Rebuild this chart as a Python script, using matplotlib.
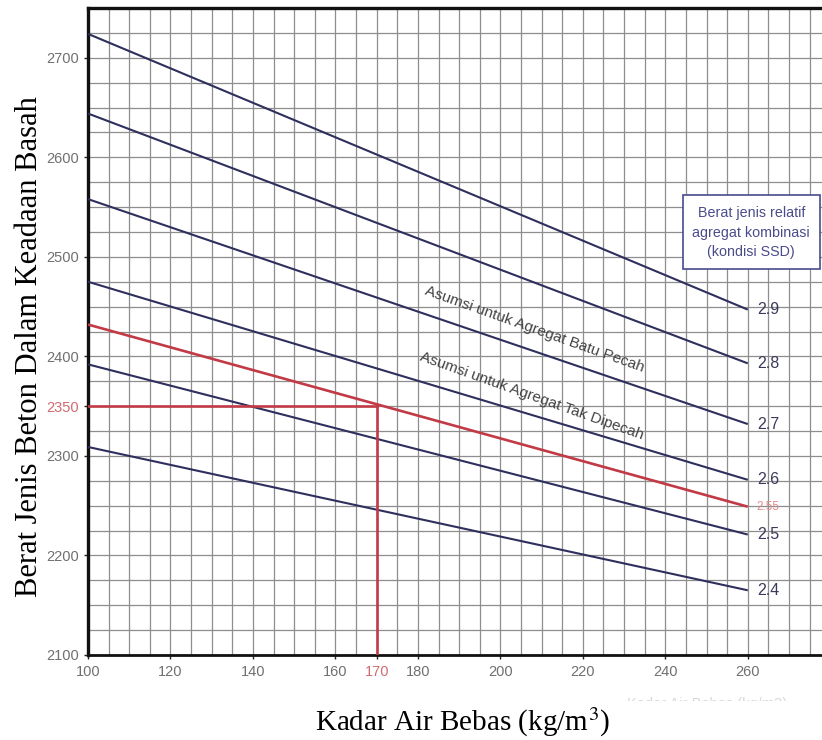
import matplotlib
matplotlib.use("Agg")
import matplotlib.pyplot as plt
from matplotlib.patches import Rectangle

# Free water content range covered by each specific-gravity line (kg/m3)
water_ends = [100, 260]

# Combined aggregate relative density (SSD) and wet concrete density at both ends
sg_labels = ["2.9", "2.8", "2.7", "2.6", "2.55", "2.5", "2.4"]
density_at_100 = [2724, 2644, 2558, 2475, 2432, 2392, 2309]
density_at_260 = [2447, 2393, 2332, 2276, 2249, 2221, 2165]

# Worked example: reading at 170 kg/m3 on the 2.55 line
water_read = 170
density_read = 2350

x_ticks = [100, 120, 140, 160, 170, 180, 200, 220, 240, 260]
y_ticks = [2100, 2200, 2300, 2350, 2400, 2500, 2600, 2700]

navy = "#2f2f5e"
red = "#c23a46"
grid_c = "#8e8e8e"
tick_c = "#707070"

fig = plt.figure(figsize=(8.22, 7.40), dpi=100)
ax = fig.add_axes([88 / 822, 85 / 740, 1 - 88 / 822, (655 - 8) / 740])
ax.set_xlim(100, 278)
ax.set_ylim(2100, 2750)

ax.set_xticks(x_ticks)
ax.set_xticklabels([str(v) for v in x_ticks])
ax.set_yticks(y_ticks)
ax.set_yticklabels([str(v) for v in y_ticks])

# Grid: every 5 kg/m3 and every 25 kg/m3 of density
ax.set_xticks(list(range(100, 280, 5)), minor=True)
ax.set_yticks(list(range(2100, 2751, 25)), minor=True)
ax.grid(which="both", color=grid_c, linewidth=0.9, zorder=0)
ax.tick_params(which="minor", length=0)

ax.tick_params(axis="both", which="major", direction="out", length=3,
               width=1.0, colors="#222222", labelcolor=tick_c, labelsize=10.5,
               labelfontfamily="Liberation Sans")
ax.tick_params(axis="x", pad=4.5)
ax.tick_params(axis="y", pad=3.5)
for lbl in ax.get_xticklabels():
    if lbl.get_text() == str(water_read):
        lbl.set_color("#d06a72")
for lbl in ax.get_yticklabels():
    if lbl.get_text() == str(density_read):
        lbl.set_color("#d06a72")

for side in ("left", "top"):
    ax.spines[side].set_linewidth(2.4)
    ax.spines[side].set_color("#111111")
ax.spines["bottom"].set_linewidth(2.0)
ax.spines["bottom"].set_color("#111111")
ax.spines["right"].set_visible(False)

# Density lines for each relative density
for lab, y0, y1 in zip(sg_labels, density_at_100, density_at_260):
    is_red = lab == "2.55"
    ax.plot(water_ends, [y0, y1], color=red if is_red else navy,
            linewidth=1.9 if is_red else 1.5, zorder=3, solid_capstyle="butt")
    ax.text(water_ends[1] + 2.2, y1, lab, ha="left", va="center",
            fontsize=8.5 if is_red else 11.5, family="Liberation Sans",
            color="#e08a8a" if is_red else "#3a3a5a", zorder=4)

# Reading lines for the worked example
ax.plot([100, water_read], [density_read, density_read], color=red,
        linewidth=1.9, zorder=3)
ax.plot([water_read, water_read], [2100, density_read], color=red,
        linewidth=1.9, zorder=3)

# Aggregate type notes along the lines
ax.text(208.4, 2427, "Asumsi untuk Agregat Batu Pecah", rotation=-19.6,
        rotation_mode="anchor", ha="center", va="center", fontsize=11,
        family="Liberation Sans", color="#444444", zorder=4)
ax.text(207.5, 2360, "Asumsi untuk Agregat Tak Dipecah", rotation=-19.6,
        rotation_mode="anchor", ha="center", va="center", fontsize=11,
        family="Liberation Sans", color="#444444", zorder=4)

# Legend box
box_x0 = 100 + (683 - 88) / 4.125
box_x1 = 100 + (820 - 88) / 4.125
box_y1 = 2700 - (195 - 57)
box_y0 = 2700 - (269 - 57)
ax.add_patch(Rectangle((box_x0, box_y0), box_x1 - box_x0, box_y1 - box_y0,
                       facecolor="white", edgecolor="#4a4a8e", linewidth=1.2,
                       zorder=5))
ax.text((box_x0 + box_x1) / 2, (box_y0 + box_y1) / 2 - 1,
        "Berat jenis relatif\nagregat kombinasi\n(kondisi SSD)",
        ha="center", va="center", fontsize=10.3, linespacing=1.5,
        family="Liberation Sans", color="#4b4b8b", zorder=6)

# Faded original axis caption, cut off at the bottom edge
fig.text(627 / 822, 1 - 708 / 740, "Kadar Air Bebas (kg/m3)", fontsize=10.5,
         family="Liberation Sans", color="#d8d8d8", ha="left", va="baseline",
         zorder=1)
fig.patches.append(Rectangle((0, 0), 1, 1 - 701 / 740, transform=fig.transFigure,
                             facecolor="white", edgecolor="none", zorder=5))

plt.rcParams["mathtext.fontset"] = "stix"
fig.text(463 / 822, 1 - 722 / 740, r"Kadar Air Bebas (kg/m$^3$)",
         fontsize=21, family="Liberation Serif", color="black",
         ha="center", va="center", zorder=10)
fig.text(30 / 822, 1 - 347 / 740, "Berat Jenis Beton Dalam Keadaan Basah",
         fontsize=22, family="Liberation Serif", color="black",
         rotation=90, ha="center", va="center", zorder=10)

fig.savefig("out.png", dpi=100)
